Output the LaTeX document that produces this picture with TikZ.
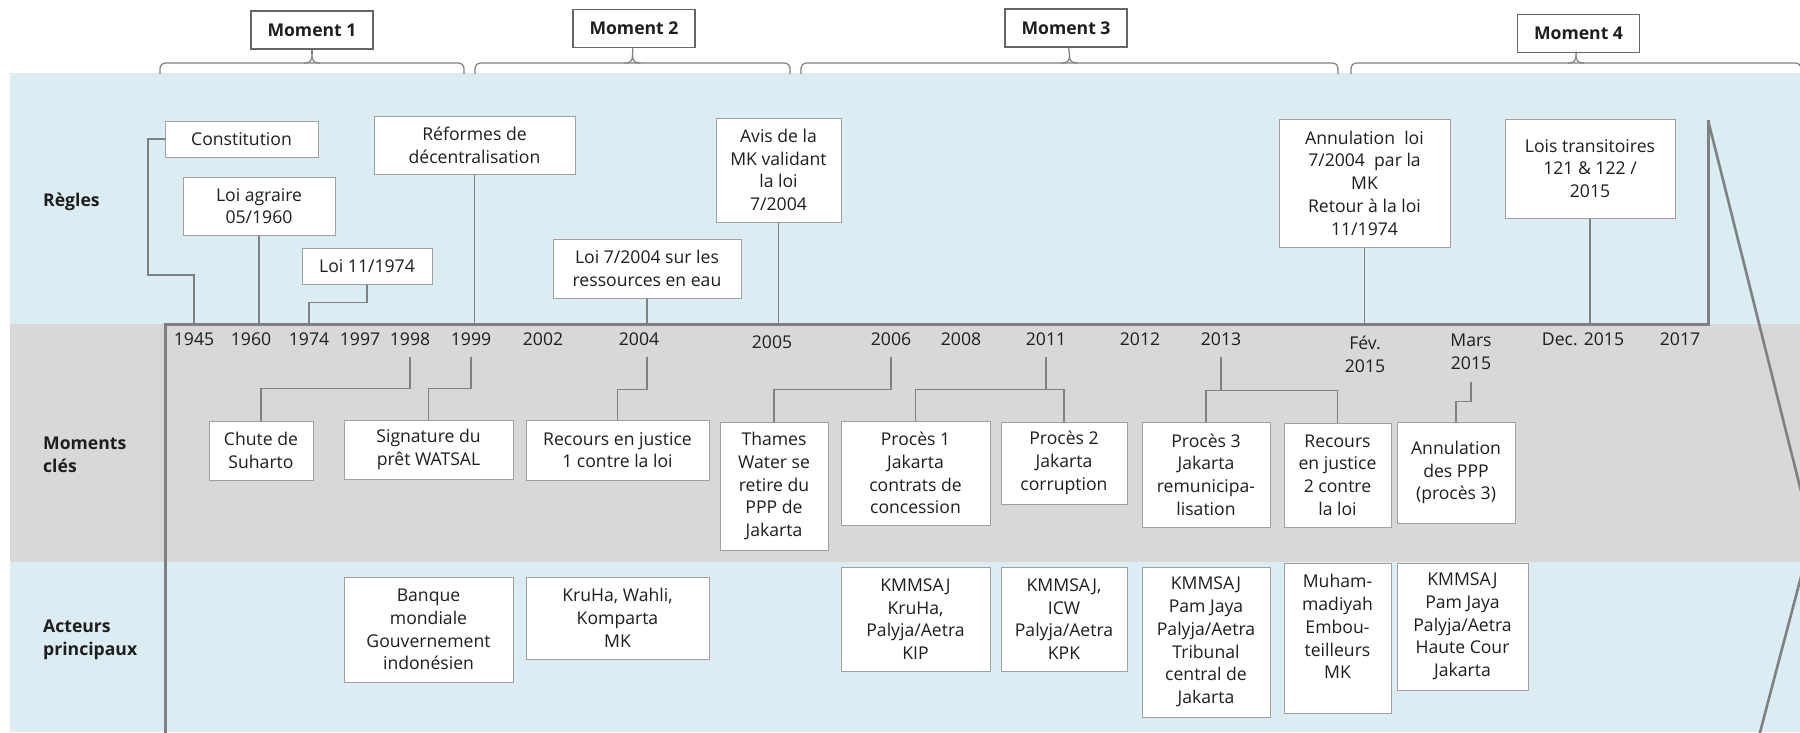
\documentclass[tikz,border=0pt]{standalone}
\usepackage{fontspec}
\setmainfont{Open Sans}
\definecolor{bandblue}{RGB}{219,237,243}
\definecolor{bandgray}{RGB}{217,216,214}
\definecolor{linegray}{RGB}{128,128,128}
\definecolor{boxgray}{RGB}{160,160,160}
\definecolor{txt}{RGB}{30,30,30}

\begin{document}
\begin{tikzpicture}[x=1pt,y=-1pt,
	font=\fontsize{17.6}{22.75}\selectfont, text=txt,
	box/.style={draw=boxgray, fill=white, line width=1pt, align=center, inner sep=0pt},
	momentbox/.style={draw=linegray!80!black, fill=white, line width=1.4pt, inner sep=0pt,
		minimum width=122pt, minimum height=38pt, font=\fontsize{17.6}{22.75}\selectfont\bfseries},
	conn/.style={draw=linegray, line width=1.4pt},
	axisline/.style={draw=linegray, line width=3pt, line join=miter},
	yr/.style={inner sep=0pt, minimum height=36pt, align=center},
	rowlbl/.style={anchor=west, align=left, inner sep=0pt, font=\fontsize{17.6}{22.75}\selectfont\bfseries},
	brc/.style={draw=linegray, line width=1.2pt}
	]

	\useasboundingbox (0,0) rectangle (1800,732);
	\clip (0,0) rectangle (1800,732);

	% bandes
	\fill[bandblue] (10,73) rectangle (1800,324);
	\fill[bandgray] (10,324) rectangle (1800,562);
	\fill[bandblue] (10,562) rectangle (1800,732);

	% moments
	\node[momentbox] (mom1) at (312,30) {Moment 1};
	\node[momentbox] (mom2) at (634,28.5) {Moment 2};
	\node[momentbox] (mom3) at (1066,28) {Moment 3};
	\node[momentbox] (mom4) at (1578.5,33.5) {Moment 4};
	\foreach \l/\r/\m in {160/464/312, 475/790/632.5, 801/1338/1069.5, 1351/1801/1576} {
		\draw[brc, rounded corners=5pt] (\l,74) -- (\l,63) -- (\r,63) -- (\r,74);
		\draw[brc] (\m-8,63) .. controls (\m-2,63) and (\m,61) .. (\m,55)
			.. controls (\m,61) and (\m+2,63) .. (\m+8,63);
	}
	\coordinate (b1) at (312,55);
	\coordinate (b2) at (632.5,55);
	\coordinate (b3) at (1069.5,55);
	\coordinate (b4) at (1576,55);
	\draw[brc] (mom1) -- (b1);
	\draw[brc] (mom2) -- (b2);
	\draw[brc] (mom3) -- (b3);
	\draw[brc] (mom4) -- (b4);

	% lignes
	\node[rowlbl] (rregles) at (43,202) {Règles};
	\node[rowlbl] (rmoments) at (43,454.5) {Moments\\clés};
	\node[rowlbl] (racteurs) at (43,639.5) {Acteurs\\principaux};

	% dates
	\node[yr] (y1945) at (194,339) {1945};
	\node[yr] (y1960) at (251,339) {1960};
	\node[yr] (y1974) at (309,339) {1974};
	\node[yr] (y1997) at (360,339) {1997};
	\node[yr] (y1998) at (410,339) {1998};
	\node[yr] (y1999) at (471,339) {1999};
	\node[yr] (y2002) at (543,339) {2002};
	\node[yr] (y2004) at (639,339) {2004};
	\node[yr] (y2005) at (772,342) {2005};
	\node[yr] (y2006) at (891,339) {2006};
	\node[yr] (y2008) at (961,339) {2008};
	\node[yr] (y2011) at (1046,339) {2011};
	\node[yr] (y2012) at (1140,339) {2012};
	\node[yr] (y2013) at (1221,339) {2013};
	\node[yr] (yfev) at (1365,354) {Fév.\\2015};
	\node[yr, minimum height=60pt] (ymars) at (1471,351.5) {Mars\\2015};
	\node[yr] (ydec) at (1583,339) {Dec. 2015};
	\node[yr] (y2017) at (1680,339) {2017};

	% regles
	\node[box, minimum width=153pt, minimum height=36pt] (cons) at (241.5,139) {Constitution};
	\node[box, minimum width=152pt, minimum height=58pt] (agr) at (259,206) {Loi agraire\\05/1960};
	\node[box, minimum width=130pt, minimum height=36pt] (l74) at (367,266) {Loi 11/1974};
	\node[box, minimum width=201pt, minimum height=58pt] (decen) at (474.5,145) {Réformes de\\décentralisation};
	\node[box, minimum width=188pt, minimum height=59pt] (l2004) at (647,268.5) {Loi 7/2004 sur les\\ressources en eau};
	\node[box, minimum width=125pt, minimum height=104pt] (avis) at (778.5,170) {Avis de la\\MK validant\\la loi\\7/2004};
	\node[box, minimum width=171pt, minimum height=128pt] (annul) at (1364.5,183) {Annulation~ loi\\7/2004~ par la\\MK\\Retour à la loi\\11/1974};
	\node[box, minimum width=170pt, minimum height=99pt] (trans) at (1590,168.5) {Lois transitoires\\121 \& 122 /\\2015};

	\coordinate (ax) at (165,324);
	\draw[conn] (cons.west) -| (148,275) -| (y1945 |- ax);
	\draw[conn] (agr.south) -- (agr.south |- ax);
	\draw[conn] (l74.south) -- ++(0,18) -| (y1974 |- ax);
	\draw[conn] (decen.south) -- (decen.south |- ax);
	\draw[conn] (l2004.south) -- (l2004.south |- ax);
	\draw[conn] (avis.south) -- (avis.south |- ax);
	\draw[conn] (annul.south) -- (annul.south |- ax);
	\draw[conn] (trans.south) -- (trans.south |- ax);

	% moments cles
	\node[box, minimum width=104pt, minimum height=59pt] (chute) at (261,450.5) {Chute de\\Suharto};
	\node[box, minimum width=169pt, minimum height=59pt] (watsal) at (428.5,449.5) {Signature du\\prêt WATSAL};
	\node[box, minimum width=183pt, minimum height=60pt] (rec1) at (617.5,450) {Recours en justice\\1 contre la loi};
	\node[box, minimum width=108pt, minimum height=128pt] (thames) at (774,486) {Thames\\Water se\\retire du\\PPP de\\Jakarta};
	\node[box, minimum width=149pt, minimum height=104pt] (proc1) at (915.5,473) {Procès 1\\Jakarta\\contrats de\\concession};
	\node[box, minimum width=126pt, minimum height=82pt] (proc2) at (1064,463) {Procès 2\\Jakarta\\corruption};
	\node[box, minimum width=128pt, minimum height=105pt] (proc3) at (1206,474.5) {Procès 3\\Jakarta\\remunicipa-\\lisation};
	\node[box, minimum width=107pt, minimum height=104pt] (rec2) at (1337.5,475) {Recours\\en justice\\2 contre\\la loi};
	\node[box, minimum width=118pt, minimum height=101pt] (annppp) at (1456,472.5) {Annulation\\des PPP\\(procès 3)};

	\draw[conn] (y1998.south) -- ++(0,31) -| (chute.north);
	\draw[conn] (y1999.south) -- ++(0,31) -| (watsal.north);
	\draw[conn] (y2004.south -| l2004.south) -- ++(0,32) -| (rec1.north);
	\draw[conn] (y2006.south) -- ++(0,32) -| (thames.north);
	\draw[conn] (y2011.south) -- ++(0,32) -| (proc1.north);
	\draw[conn] (y2011.south) ++(0,32) -| (proc2.north);
	\draw[conn] (y2013.south) -- ++(0,33) -| (proc3.north);
	\draw[conn] (y2013.south) ++(0,33) -| (rec2.north);
	\draw[conn] (ymars.south) -- ++(0,20) -| (annppp.north);

	% acteurs
	\node[box, minimum width=169pt, minimum height=105pt] (banque) at (428.5,629.5) {Banque\\mondiale\\Gouvernement\\indonésien};
	\node[box, minimum width=183pt, minimum height=82pt] (kruha) at (617.5,618) {KruHa, Wahli,\\Komparta\\MK};
	\node[box, minimum width=149pt, minimum height=104pt] (act1) at (915.5,619) {KMMSAJ\\KruHa,\\Palyja/Aetra\\KIP};
	\node[box, minimum width=126pt, minimum height=104pt] (act2) at (1064,619) {KMMSAJ,\\ICW\\Palyja/Aetra\\KPK};
	\node[box, minimum width=128pt, minimum height=150pt] (act3) at (1206,642) {KMMSAJ\\Pam Jaya\\Palyja/Aetra\\Tribunal\\central de\\Jakarta};
	\node[box, minimum width=107pt, minimum height=150pt] (act4) at (1337.5,638) {Muham-\\madiyah\\Embou-\\teilleurs\\MK\\\mbox{}};
	\node[box, minimum width=131pt, minimum height=127pt] (act5) at (1462.5,626.5) {KMMSAJ\\Pam Jaya\\Palyja/Aetra\\Haute Cour\\Jakarta};

	% axe
	\coordinate (axe) at (1708,324);
	\coordinate (axt) at (1708,120);
	\draw[axisline] (165,740) -- (ax) -- (axe) -- (axt);
	\draw[axisline, line width=2.6pt] (axt) -- (1812,535) -- (1758,740);

\end{tikzpicture}
\end{document}
